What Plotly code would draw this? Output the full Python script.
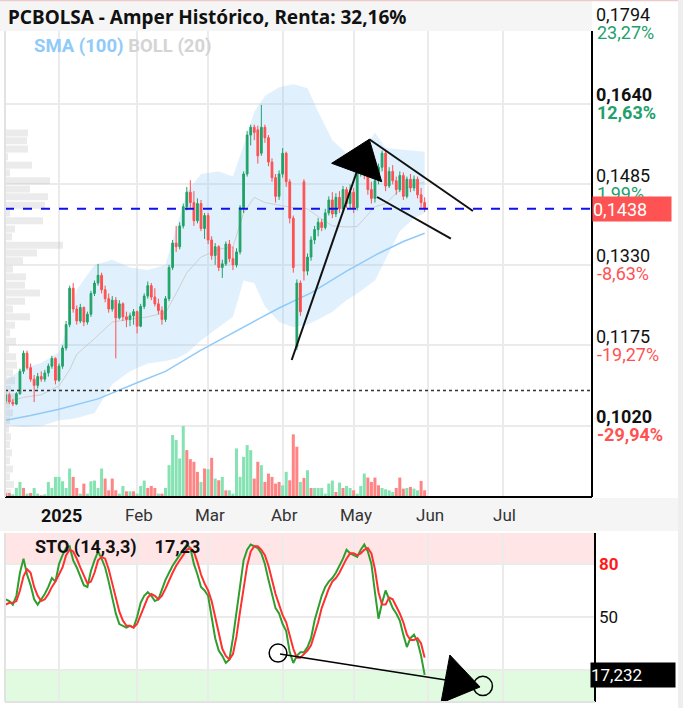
import plotly.graph_objects as go

W, H = 683, 708
def PX(x): return x / W
def PY(y): return 1 - y / H

# ---------------- data ----------------
day_index = list(range(-15, 104))   # trading-day index, 0 = first session of 2025

open_ = [0.1068, 0.1080, 0.1066, 0.1062, 0.1082, 0.1125, 0.1160, 0.1132, 0.1110, 0.1098,
         0.1115, 0.1110, 0.1122, 0.1135, 0.1150, 0.1108, 0.1135, 0.1170, 0.1215, 0.1285,
         0.1245, 0.1222, 0.1248, 0.1220, 0.1235, 0.1275, 0.1295, 0.1310, 0.1282, 0.1265,
         0.1245, 0.1262, 0.1228, 0.1255, 0.1230, 0.1225, 0.1232, 0.1240, 0.1212, 0.1250,
         0.1270, 0.1290, 0.1268, 0.1255, 0.1242, 0.1225, 0.1265, 0.1325, 0.1372, 0.1365,
         0.1405, 0.1442, 0.1470, 0.1450, 0.1415, 0.1448, 0.1400, 0.1425, 0.1378, 0.1348,
         0.1365, 0.1325, 0.1332, 0.1370, 0.1342, 0.1330, 0.1355, 0.1440, 0.1505, 0.1580,
         0.1595, 0.1590, 0.1545, 0.1595, 0.1575, 0.1528, 0.1498, 0.1462, 0.1505, 0.1545,
         0.1490, 0.1420, 0.1172, 0.1295, 0.1490, 0.1318, 0.1345, 0.1378, 0.1398, 0.1412,
         0.1402, 0.1430, 0.1455, 0.1428, 0.1460, 0.1438, 0.1475, 0.1448, 0.1470, 0.1440,
         0.1512, 0.1520, 0.1505, 0.1475, 0.1458, 0.1492, 0.1518, 0.1545, 0.1482, 0.1510,
         0.1492, 0.1475, 0.1502, 0.1462, 0.1495, 0.1478, 0.1495, 0.1465, 0.1450]
high = [0.1085, 0.1084, 0.1072, 0.1085, 0.1130, 0.1165, 0.1165, 0.1140, 0.1118, 0.1122,
        0.1125, 0.1128, 0.1140, 0.1155, 0.1152, 0.1140, 0.1175, 0.1222, 0.1290, 0.1295,
        0.1252, 0.1255, 0.1250, 0.1240, 0.1280, 0.1300, 0.1332, 0.1315, 0.1290, 0.1275,
        0.1270, 0.1268, 0.1262, 0.1258, 0.1240, 0.1238, 0.1245, 0.1242, 0.1255, 0.1275,
        0.1298, 0.1295, 0.1285, 0.1265, 0.1250, 0.1270, 0.1330, 0.1378, 0.1405, 0.1412,
        0.1448, 0.1480, 0.1493, 0.1472, 0.1458, 0.1455, 0.1430, 0.1430, 0.1385, 0.1372,
        0.1368, 0.1340, 0.1375, 0.1378, 0.1365, 0.1362, 0.1445, 0.1510, 0.1588, 0.1600,
        0.1600, 0.1598, 0.1638, 0.1600, 0.1580, 0.1535, 0.1505, 0.1512, 0.1555, 0.1548,
        0.1495, 0.1425, 0.1302, 0.1300, 0.1495, 0.1352, 0.1385, 0.1405, 0.1420, 0.1418,
        0.1438, 0.1462, 0.1470, 0.1468, 0.1472, 0.1482, 0.1480, 0.1485, 0.1478, 0.1522,
        0.1535, 0.1530, 0.1510, 0.1490, 0.1500, 0.1525, 0.1550, 0.1552, 0.1518, 0.1522,
        0.1500, 0.1510, 0.1508, 0.1500, 0.1505, 0.1502, 0.1500, 0.1478, 0.1460]
low = [0.1062, 0.1062, 0.1058, 0.1060, 0.1080, 0.1120, 0.1128, 0.1105, 0.1066, 0.1092,
       0.1105, 0.1105, 0.1115, 0.1130, 0.1100, 0.1105, 0.1130, 0.1165, 0.1210, 0.1238,
       0.1215, 0.1218, 0.1212, 0.1215, 0.1230, 0.1270, 0.1290, 0.1275, 0.1258, 0.1238,
       0.1240, 0.1150, 0.1225, 0.1222, 0.1210, 0.1212, 0.1215, 0.1198, 0.1210, 0.1245,
       0.1265, 0.1262, 0.1250, 0.1235, 0.1215, 0.1220, 0.1260, 0.1320, 0.1355, 0.1360,
       0.1400, 0.1435, 0.1440, 0.1405, 0.1410, 0.1395, 0.1380, 0.1370, 0.1340, 0.1330,
       0.1318, 0.1305, 0.1328, 0.1335, 0.1320, 0.1325, 0.1350, 0.1430, 0.1500, 0.1560,
       0.1570, 0.1525, 0.1540, 0.1565, 0.1520, 0.1490, 0.1450, 0.1455, 0.1498, 0.1480,
       0.1410, 0.1315, 0.1166, 0.1232, 0.1300, 0.1310, 0.1338, 0.1370, 0.1385, 0.1395,
       0.1398, 0.1425, 0.1420, 0.1422, 0.1430, 0.1432, 0.1440, 0.1438, 0.1430, 0.1435,
       0.1500, 0.1495, 0.1465, 0.1448, 0.1450, 0.1485, 0.1510, 0.1472, 0.1478, 0.1485,
       0.1465, 0.1470, 0.1455, 0.1458, 0.1470, 0.1472, 0.1458, 0.1440, 0.1432]
close = [0.1080, 0.1066, 0.1062, 0.1082, 0.1125, 0.1160, 0.1132, 0.1110, 0.1098, 0.1115,
         0.1110, 0.1122, 0.1135, 0.1150, 0.1108, 0.1135, 0.1170, 0.1215, 0.1285, 0.1245,
         0.1222, 0.1248, 0.1220, 0.1235, 0.1275, 0.1295, 0.1310, 0.1282, 0.1265, 0.1245,
         0.1262, 0.1228, 0.1255, 0.1230, 0.1225, 0.1232, 0.1240, 0.1212, 0.1250, 0.1270,
         0.1290, 0.1268, 0.1255, 0.1242, 0.1225, 0.1265, 0.1325, 0.1372, 0.1365, 0.1405,
         0.1442, 0.1470, 0.1450, 0.1415, 0.1448, 0.1400, 0.1425, 0.1378, 0.1348, 0.1365,
         0.1325, 0.1332, 0.1370, 0.1342, 0.1330, 0.1355, 0.1440, 0.1505, 0.1580, 0.1595,
         0.1585, 0.1540, 0.1595, 0.1575, 0.1528, 0.1498, 0.1462, 0.1505, 0.1545, 0.1490,
         0.1420, 0.1325, 0.1295, 0.1240, 0.1318, 0.1345, 0.1378, 0.1398, 0.1412, 0.1402,
         0.1430, 0.1455, 0.1428, 0.1460, 0.1438, 0.1475, 0.1448, 0.1470, 0.1440, 0.1512,
         0.1520, 0.1505, 0.1475, 0.1458, 0.1492, 0.1518, 0.1545, 0.1482, 0.1510, 0.1492,
         0.1475, 0.1502, 0.1462, 0.1495, 0.1478, 0.1495, 0.1465, 0.1450, 0.1438]

volume = [12, 12, 8, 27, 45, 27, 10, 12, 27, 10,
          5, 8, 45, 27, 60, 60, 47, 27, 85, 60,
          27, 10, 40, 10, 47, 49, 27, 85, 55, 20,
          55, 20, 10, 33, 17, 17, 17, 10, 33, 49,
          27, 33, 27, 10, 10, 27, 95, 185, 170, 115,
          212, 140, 113, 105, 75, 45, 85, 83, 117, 55,
          50, 60, 20, 20, 10, 145, 60, 120, 155, 140,
          55, 105, 95, 45, 70, 60, 40, 45, 35, 75,
          50, 187, 150, 45, 57, 80, 27, 27, 27, 27,
          10, 40, 49, 15, 43, 27, 33, 27, 20, 10,
          33, 70, 58, 45, 58, 35, 27, 23, 20, 15,
          27, 58, 25, 27, 30, 25, 20, 48, 20]
volume_dir = ("rrgggrgrgg" "rggggggggr" "rgrgggggrr" "rrggrgrggg" "rrrgrggggg"
              "grrrrgrgrg" "rgrggggggg" "rrgrrrrrgg" "rrrgrgrggg" "gggrgrggrg"
              "ggrrrrgggg" "rrrgrggrr")

sto_k = [60, 59, 57, 62, 75, 83, 74, 68, 60, 57,
         60, 63, 67, 72, 70, 80, 85, 89, 90, 82,
         78, 73, 68, 67, 76, 82, 87, 83, 78, 70,
         60, 52, 46, 45, 44, 45, 44, 50, 58, 62,
         64, 62, 59, 60, 66, 71, 75, 79, 82, 85,
         88, 91, 89, 80, 74, 67, 65, 62, 50, 38,
         31, 28, 24, 26, 38, 52, 68, 82, 88, 91,
         90, 89, 86, 80, 71, 63, 55, 52, 46, 42,
         30, 24, 28, 30, 30, 33, 38, 48, 55, 62,
         67, 70, 72, 75, 79, 83, 88, 86, 85, 84,
         88, 91, 87, 80, 64, 49, 58, 65, 60, 55,
         52, 48, 40, 33, 38, 40, 36, 28, 17.23]
sto_d = [57, 58, 58, 59, 65, 73, 77, 75, 67, 62,
         59, 60, 63, 67, 70, 74, 78, 85, 88, 87,
         83, 78, 73, 69, 70, 75, 82, 84, 83, 77,
         69, 61, 53, 48, 45, 45, 44, 46, 51, 57,
         61, 63, 62, 60, 62, 66, 71, 75, 79, 82,
         85, 88, 89, 87, 81, 74, 69, 65, 59, 50,
         40, 32, 28, 26, 29, 39, 53, 67, 79, 87,
         90, 90, 88, 85, 79, 71, 63, 57, 51, 47,
         39, 32, 27, 27, 29, 31, 34, 40, 47, 55,
         61, 66, 70, 72, 75, 79, 83, 86, 86, 85,
         86, 88, 89, 86, 77, 64, 57, 57, 61, 60,
         56, 52, 47, 40, 37, 37, 38, 35, 27]

sma100_idx = [-15, -8, 0, 11, 23, 30, 40, 49, 56, 62, 71, 81, 90, 97, 103]
sma100 = [0.1031, 0.1040, 0.1052, 0.1072, 0.1106, 0.1125, 0.1166, 0.1200,
          0.1225, 0.1247, 0.1276, 0.1318, 0.1352, 0.1375, 0.1391]

boll_idx = [-15, -10, -5, 0, 3, 5, 10, 15, 20, 25, 30, 33, 36, 40, 45, 49, 52, 55,
            58, 62, 66, 70, 73, 77, 81, 84, 89, 92, 96, 100, 103]
boll_upper = [0.1108, 0.1131, 0.1141, 0.1162, 0.1224, 0.1282, 0.1330, 0.1340, 0.1325,
              0.1320, 0.1330, 0.1400, 0.1470, 0.1505, 0.1510, 0.1500, 0.1560, 0.1625,
              0.1655, 0.1672, 0.1678, 0.1670, 0.1625, 0.1570, 0.1545, 0.1532, 0.1585,
              0.1555, 0.1552, 0.1550, 0.1548]
boll_mid = [0.1065, 0.1075, 0.1080, 0.1097, 0.1128, 0.1158, 0.1188, 0.1220, 0.1225,
            0.1230, 0.1238, 0.1275, 0.1315, 0.1345, 0.1360, 0.1365, 0.1430, 0.1460,
            0.1450, 0.1445, 0.1440, 0.1438, 0.1423, 0.1405, 0.1403, 0.1404, 0.1442,
            0.1448, 0.1474, 0.1485, 0.1489]
boll_lower = [0.1022, 0.1018, 0.1020, 0.1031, 0.1033, 0.1035, 0.1045, 0.1100, 0.1125,
              0.1140, 0.1145, 0.1150, 0.1160, 0.1185, 0.1210, 0.1230, 0.1300, 0.1295,
              0.1250, 0.1220, 0.1210, 0.1215, 0.1225, 0.1240, 0.1262, 0.1275, 0.1300,
              0.1340, 0.1395, 0.1420, 0.1430]

profile_price = [0.1584, 0.1569, 0.1553, 0.1538, 0.1522, 0.1507, 0.1492, 0.1476, 0.1461,
                 0.1445, 0.1430, 0.1415, 0.1399, 0.1384, 0.1368, 0.1353, 0.1338, 0.1322,
                 0.1307, 0.1291, 0.1276, 0.1260, 0.1245, 0.1230, 0.1214, 0.1199, 0.1183,
                 0.1168, 0.1153, 0.1137, 0.1122, 0.1107, 0.1091, 0.1076, 0.1060, 0.1045,
                 0.1030, 0.1014, 0.0999, 0.0984, 0.0968, 0.0953, 0.0937, 0.0922, 0.0907,
                 0.0891]
profile_volume = [23, 22, 23, 3, 27, 5, 45, 25, 43, 40, 5, 38, 10, 7, 58, 32, 18, 8,
                  21, 20, 35, 20, 8, 25, 10, 5, 11, 4, 11, 12, 8, 10, 6, 10, 5, 8,
                  5, 4, 6, 5, 7, 5, 8, 5, 9, 6]

month_idx = [0, 22, 42, 63, 83, 104, 125]
month_labels = ["2025", "Feb", "Mar", "Abr", "May", "Jun", "Jul"]

price_ticks = [0.1794, 0.1640, 0.1485, 0.1330, 0.1175, 0.1020, 0.0865]
price_text = ["0,1794", "<b>0,1640</b>", "0,1485", "0,1330", "0,1175", "<b>0,1020</b>", "0,0865"]
pct_text = ["23,27%", "<b>12,63%</b>", "1,99%", "-8,63%", "-19,27%", "<b>-29,94%</b>"]
pct_up = [True, True, True, False, False, False]

last_price = 0.1438
start_price = 0.1088
sto_last = 17.232

# ---------------- styles ----------------
GREEN = "#20a367"
RED = "#ff5050"
GRID = "#ebebeb"
FONT = "Roboto"

fig = go.Figure()

# Bollinger band (base subplot)
fig.add_trace(go.Scatter(x=boll_idx, y=boll_upper, mode="lines", line=dict(width=0, color="rgba(0,0,0,0)"),
                         xaxis="x", yaxis="y", hoverinfo="skip"))
fig.add_trace(go.Scatter(x=boll_idx, y=boll_lower, mode="lines", line=dict(width=0, color="rgba(0,0,0,0)"),
                         fill="tonexty", fillcolor="rgba(144,202,249,0.28)", xaxis="x", yaxis="y",
                         hoverinfo="skip"))
fig.add_trace(go.Scatter(x=boll_idx, y=boll_mid, mode="lines", line=dict(width=1, color="#cfcfcf"),
                         xaxis="x", yaxis="y", hoverinfo="skip"))
fig.add_trace(go.Scatter(x=sma100_idx, y=sma100, mode="lines", line=dict(width=1.5, color="#90caf9"),
                         xaxis="x", yaxis="y", hoverinfo="skip"))

# Volume profile (overlay x3)
fig.add_trace(go.Bar(y=profile_price, x=profile_volume, orientation="h", width=0.00135,
                     marker=dict(color="rgba(175,175,175,0.25)", line=dict(width=0)),
                     xaxis="x3", yaxis="y", hoverinfo="skip"))

# Volume (overlay y2)
vcol = ["#85e2b3" if d == "g" else "#ff8585" for d in volume_dir]
fig.add_trace(go.Bar(x=day_index, y=volume, width=0.85, marker=dict(color=vcol, line=dict(width=0)),
                     xaxis="x", yaxis="y2", hoverinfo="skip"))

# Candles (overlay y4)
fig.add_trace(go.Candlestick(x=day_index, open=open_, high=high, low=low, close=close,
                             increasing=dict(line=dict(color=GREEN, width=1), fillcolor=GREEN),
                             decreasing=dict(line=dict(color=RED, width=1), fillcolor=RED),
                             whiskerwidth=0, xaxis="x", yaxis="y4", hoverinfo="skip"))

# Stochastic
fig.add_trace(go.Scatter(x=day_index, y=sto_k, mode="lines", line=dict(width=2, color="#2f9e2f"),
                         xaxis="x5", yaxis="y5", hoverinfo="skip"))
fig.add_trace(go.Scatter(x=day_index, y=sto_d, mode="lines", line=dict(width=2, color="#ff3030"),
                         xaxis="x5", yaxis="y5", hoverinfo="skip"))

yr = [0.08831, 0.1840]
xr = [-15.21, 150.14]
xr5 = [-15.21, 150.99]
yr5 = [1.9, 97.5]

fig.update_layout(
    width=W, height=H, margin=dict(l=0, r=0, t=0, b=0),
    paper_bgcolor="white", plot_bgcolor="white", showlegend=False,
    font=dict(family=FONT, size=16, color="#222"),
    xaxis=dict(domain=[PX(5), PX(592)], range=xr, tickvals=month_idx, showticklabels=False,
               showgrid=True, gridcolor=GRID, gridwidth=2, zeroline=False, showline=False,
               anchor="y", rangeslider=dict(visible=False), fixedrange=True),
    yaxis=dict(domain=[PY(497), PY(0)], range=yr, tickvals=price_ticks, ticktext=price_text,
               side="right", ticks="", ticklabelshift=-9, ticklabelstandoff=3,
               tickfont=dict(family=FONT, size=18, color="#111"),
               showgrid=True, gridcolor=GRID, gridwidth=2, zeroline=False, showline=False,
               anchor="x", fixedrange=True),
    yaxis2=dict(overlaying="y", range=[0, 1484], visible=False, anchor="x", fixedrange=True),
    yaxis4=dict(overlaying="y", range=yr, visible=False, anchor="x", fixedrange=True),
    xaxis3=dict(overlaying="x", range=[0, 587], visible=False, anchor="y", fixedrange=True),
    xaxis5=dict(domain=[PX(5), PX(595)], range=xr5, tickvals=month_idx, showticklabels=False,
                showgrid=True, gridcolor=GRID, gridwidth=2, zeroline=False, showline=False,
                anchor="y5", fixedrange=True),
    yaxis5=dict(domain=[PY(702), PY(533)], range=yr5, tickvals=[20, 50, 80], showticklabels=False,
                showgrid=True, gridcolor=GRID, gridwidth=2, zeroline=False, showline=False,
                anchor="x5", fixedrange=True),
)

shapes = []
# STO zones
shapes.append(dict(type="rect", xref="x5", yref="y5", x0=xr5[0], x1=xr5[1], y0=80, y1=yr5[1],
                   fillcolor="rgba(255,0,0,0.10)", line=dict(width=0), layer="below"))
shapes.append(dict(type="rect", xref="x5", yref="y5", x0=xr5[0], x1=xr5[1], y0=yr5[0], y1=20,
                   fillcolor="rgba(0,220,0,0.12)", line=dict(width=0), layer="below"))
# reference lines
shapes.append(dict(type="line", xref="x", yref="y", x0=xr[0], x1=xr[1], y0=start_price, y1=start_price,
                   line=dict(color="#333", width=1.5, dash="dot"), layer="above"))
shapes.append(dict(type="line", xref="x", yref="y", x0=xr[0], x1=xr[1], y0=last_price, y1=last_price,
                   line=dict(color="#1010ee", width=2, dash="dash"), layer="above"))
# drawings on price pane
shapes.append(dict(type="line", xref="x", yref="y4", x0=65.55, y0=0.11469, x1=83.86, y1=0.15089,
                   line=dict(color="#111", width=2), layer="above"))
shapes.append(dict(type="path", xref="x", yref="y4", path="M 87.4 0.15718 L 76.8 0.15256 L 90.9 0.14902 Z",
                   fillcolor="black", line=dict(color="black", width=1), layer="above"))
shapes.append(dict(type="line", xref="x", yref="y4", x0=87.4, y0=0.15718, x1=116.6, y1=0.14338,
                   line=dict(color="#111", width=2), layer="above"))
shapes.append(dict(type="line", xref="x", yref="y4", x0=89.6, y0=0.14607, x1=110.4, y1=0.13807,
                   line=dict(color="#111", width=2), layer="above"))
# drawings on STO pane
shapes.append(dict(type="circle", xref="x5", yref="y5", x0=59.2, x1=64.2, y0=24.5, y1=34.7,
                   line=dict(color="black", width=1.5), layer="above"))
shapes.append(dict(type="line", xref="x5", yref="y5", x0=62.25, y0=29.1, x1=118.0, y1=11.5,
                   line=dict(color="black", width=1.5), layer="above"))
shapes.append(dict(type="path", xref="x5", yref="y5", path="M 110.1 28.5 L 107.6 1.3 L 118.6 10.4 Z",
                   fillcolor="black", line=dict(color="black", width=1), layer="above"))
shapes.append(dict(type="circle", xref="x5", yref="y5", x0=116.7, x1=122.1, y0=5.6, y1=16.4,
                   line=dict(color="black", width=1.5), layer="above"))
# frame pieces
shapes.append(dict(type="rect", xref="paper", yref="paper", x0=0, x1=PX(592), y0=PY(31), y1=PY(0),
                   fillcolor="#f5f5f5", line=dict(width=0), layer="above"))
shapes.append(dict(type="line", xref="paper", yref="paper", x0=0, x1=1, y0=PY(0.5), y1=PY(0.5),
                   line=dict(color="#f0caca", width=1.5), layer="above"))
shapes.append(dict(type="rect", xref="paper", yref="paper", x0=0, x1=1, y0=PY(531), y1=PY(498),
                   fillcolor="#f5f5f5", line=dict(width=0), layer="above"))
shapes.append(dict(type="line", xref="paper", yref="paper", x0=PX(5), x1=PX(592), y0=PY(497), y1=PY(497),
                   line=dict(color="black", width=2), layer="above"))
shapes.append(dict(type="line", xref="paper", yref="paper", x0=PX(592), x1=PX(592), y0=PY(497), y1=PY(31),
                   line=dict(color="black", width=2), layer="above"))
shapes.append(dict(type="line", xref="paper", yref="paper", x0=PX(595), x1=PX(595), y0=PY(702), y1=PY(533),
                   line=dict(color="black", width=2), layer="above"))
shapes.append(dict(type="line", xref="paper", yref="paper", x0=PX(5), x1=PX(5), y0=PY(497), y1=PY(31),
                   line=dict(color="#e2e2e2", width=2), layer="above"))
shapes.append(dict(type="line", xref="paper", yref="paper", x0=PX(5), x1=PX(5), y0=PY(702), y1=PY(533),
                   line=dict(color="#e2e2e2", width=2), layer="above"))
shapes.append(dict(type="line", xref="paper", yref="paper", x0=PX(5), x1=PX(595), y0=PY(702), y1=PY(702),
                   line=dict(color="#e2e2e2", width=2), layer="above"))
shapes.append(dict(type="rect", xref="paper", yref="paper", x0=PX(678), x1=1, y0=0, y1=1,
                   fillcolor="#eeeeee", line=dict(width=0), layer="above"))
fig.update_layout(shapes=shapes)

ann = []
ann.append(dict(text="<b>PCBOLSA - Amper Histórico, Renta: 32,16%</b>", xref="paper", yref="paper",
                x=PX(6), y=PY(17), xanchor="left", yanchor="middle", showarrow=False,
                font=dict(family="Noto Sans", size=19, color="#111")))
ann.append(dict(text="<b><span style='color:#90caf9'>SMA (100)</span> <span style='color:#d4d4d4'>BOLL (20)</span></b>",
                xref="paper", yref="paper", x=PX(32), y=PY(46), xanchor="left", yanchor="middle",
                showarrow=False, font=dict(family=FONT, size=18.5)))
for v, t, up in zip(price_ticks, pct_text, pct_up):
    ann.append(dict(text=t, xref="paper", yref="y", x=PX(595), y=v, xanchor="left", yanchor="middle",
                    yshift=-9, showarrow=False,
                    font=dict(family=FONT, size=18, color="#22a06b" if up else "#ff5252")))
ann.append(dict(text="0,1438", xref="paper", yref="y", x=PX(592), y=last_price, xanchor="left",
                yanchor="middle", showarrow=False, bgcolor="#ff5252", width=78, height=24, align="left",
                borderpad=0, font=dict(family=FONT, size=18, color="white")))
for xi, lab in zip(month_idx, month_labels):
    txt = "<b>%s</b>" % lab if lab == "2025" else lab
    ann.append(dict(text=txt, xref="x", yref="paper", x=xi, y=PY(515), xanchor="center", yanchor="middle",
                    xshift=2, showarrow=False,
                    font=dict(family=FONT, size=18 if lab == "2025" else 17,
                              color="#111" if lab == "2025" else "#333")))
ann.append(dict(text="<b>STO (14,3,3)    17,23</b>", xref="paper", yref="paper", x=PX(33), y=PY(547),
                xanchor="left", yanchor="middle", showarrow=False, font=dict(family=FONT, size=18, color="#111")))
ann.append(dict(text="<b>80</b>", xref="paper", yref="y5", x=PX(597), y=80, xanchor="left", yanchor="middle",
                showarrow=False, font=dict(family=FONT, size=17, color="#ff1a1a")))
ann.append(dict(text="50", xref="paper", yref="y5", x=PX(597), y=50, xanchor="left", yanchor="middle",
                showarrow=False, font=dict(family=FONT, size=17, color="#111")))
ann.append(dict(text="17,232", xref="paper", yref="y5", x=PX(590), y=sto_last, xanchor="left",
                yanchor="middle", showarrow=False, bgcolor="black", width=84, height=24, align="left",
                borderpad=0, font=dict(family=FONT, size=17, color="white")))
fig.update_layout(annotations=ann)

fig.write_html("out.html", config={"displayModeBar": False, "staticPlot": True},
               post_script="document.body.style.margin='0';")
